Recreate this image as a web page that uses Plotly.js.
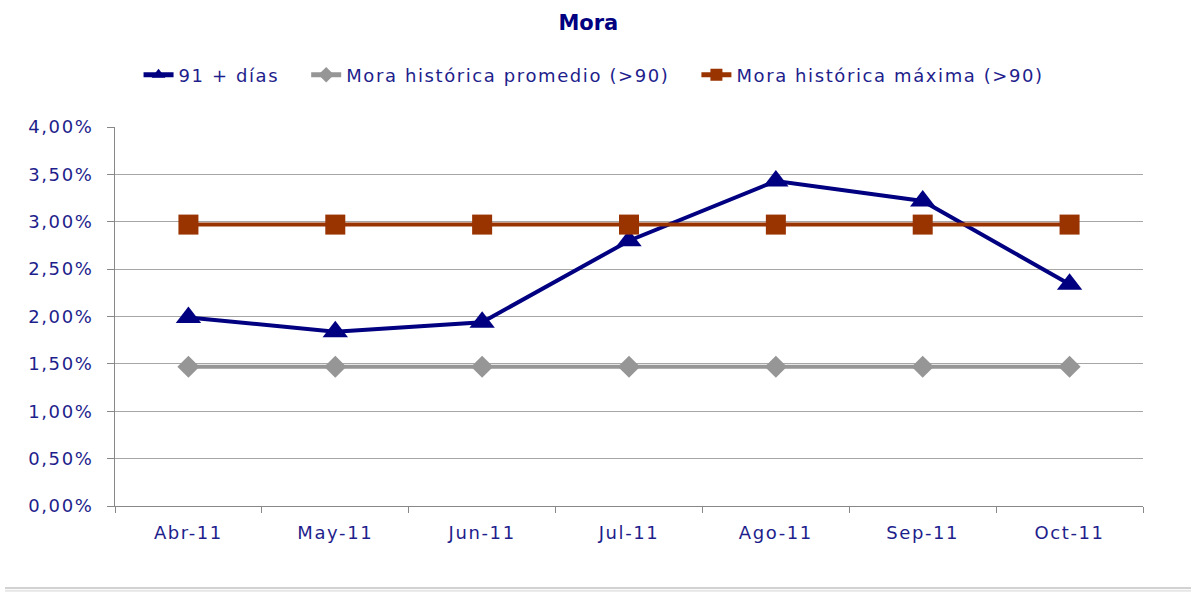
<!DOCTYPE html>
<html>
<head>
<meta charset="utf-8">
<script src="https://cdn.plot.ly/plotly-3.0.1.min.js"></script>
<style>
  html, body { margin: 0; padding: 0; background: #ffffff; }
  #chart { width: 1191px; height: 592px; }
  text { letter-spacing: 1.6px; }
  .gtitle { letter-spacing: 0px; }
</style>
</head>
<body>
<div id="chart"></div>
<script>
const categories = ["Abr-11", "May-11", "Jun-11", "Jul-11", "Ago-11", "Sep-11", "Oct-11"];
const mora91 = [0.0199, 0.0184, 0.0194, 0.0280, 0.0343, 0.0322, 0.0234];
const moraPromedio = [0.0147, 0.0147, 0.0147, 0.0147, 0.0147, 0.0147, 0.0147];
const moraMaxima = [0.0297, 0.0297, 0.0297, 0.0297, 0.0297, 0.0297, 0.0297];
const seriesNames = ["91 + días", "Mora histórica promedio (>90)", "Mora histórica máxima (>90)"];
const yTickVals = [0, 0.005, 0.01, 0.015, 0.02, 0.025, 0.03, 0.035, 0.04];
const yTickText = ["0,00%", "0,50%", "1,00%", "1,50%", "2,00%", "2,50%", "3,00%", "3,50%", "4,00%"];

const textColor = "#1E1E8C";
const fontFam = "'DejaVu Sans', Verdana, sans-serif";
const pad = "\u00A0\u00A0\u00A0";

const traces = [
  {
    x: categories, y: mora91, name: seriesNames[0] + pad, type: "scatter", mode: "lines+markers",
    line: { color: "#000080", width: 4 },
    marker: { symbol: "triangle-up", size: 22, color: "#000080" }
  },
  {
    x: categories, y: moraPromedio, name: seriesNames[1] + pad, type: "scatter", mode: "lines+markers",
    line: { color: "#969696", width: 4 },
    marker: { symbol: "diamond", size: 17, color: "#969696" }
  },
  {
    x: categories, y: moraMaxima, name: seriesNames[2], type: "scatter", mode: "lines+markers",
    line: { color: "#993300", width: 4 },
    marker: { symbol: "square", size: 20, color: "#993300" }
  }
];

const layout = {
  width: 1191, height: 592,
  paper_bgcolor: "#ffffff", plot_bgcolor: "#ffffff",
  margin: { l: 115, r: 48, t: 127, b: 86 },
  font: { family: fontFam, size: 18, color: textColor },
  title: {
    text: "<b>Mora</b>",
    font: { family: fontFam, size: 21, color: "#000080" },
    x: 0.494, xanchor: "center", y: 0.962, yanchor: "middle"
  },
  showlegend: true,
  legend: {
    orientation: "h", x: 0.466, xanchor: "center", y: 1.137, yanchor: "middle",
    font: { family: fontFam, size: 18, color: textColor },
    itemsizing: "constant", bgcolor: "rgba(0,0,0,0)", traceorder: "normal"
  },
  xaxis: {
    type: "category", range: [-0.5, 6.5],
    showgrid: false, zeroline: false,
    showline: true, linecolor: "#888888", linewidth: 1,
    ticks: "outside", tickson: "boundaries", ticklen: 6, tickcolor: "#888888",
    tickfont: { family: fontFam, size: 18, color: textColor },
    ticklabelstandoff: 10,
    fixedrange: true
  },
  yaxis: {
    range: [0, 0.04],
    tickvals: yTickVals, ticktext: yTickText,
    showgrid: true, gridcolor: "#A6A6A6", gridwidth: 1,
    zeroline: false,
    showline: true, linecolor: "#888888", linewidth: 1,
    ticks: "outside", ticklen: 7, tickcolor: "#888888",
    tickfont: { family: fontFam, size: 18, color: textColor },
    ticklabelstandoff: 10,
    fixedrange: true
  },
  shapes: [
    { type: "line", xref: "paper", yref: "paper", x0: -0.107, x1: 1.047, y0: -0.2165, y1: -0.2165,
      line: { color: "#D2D2D2", width: 2 } },
    { type: "line", xref: "paper", yref: "paper", x0: -0.107, x1: 1.047, y0: -0.2235, y1: -0.2235,
      line: { color: "#E6E6E6", width: 2 } }
  ],
  hovermode: false
};

Plotly.newPlot("chart", traces, layout, { displayModeBar: false, staticPlot: true });
</script>
</body>
</html>
